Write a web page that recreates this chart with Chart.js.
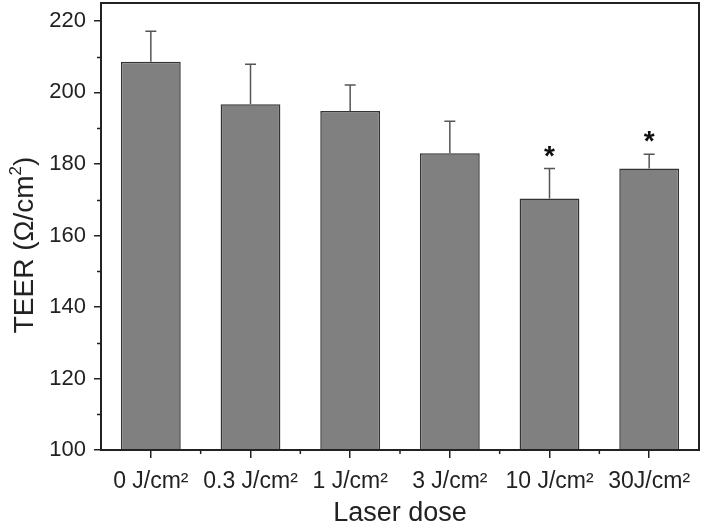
<!DOCTYPE html>
<html>
<head>
<meta charset="utf-8">
<script src="https://cdn.jsdelivr.net/npm/chart.js@4"></script>
<style>
  html, body { margin: 0; padding: 0; background: #fff; }
  #wrap { width: 705px; height: 528px; }
</style>
</head>
<body>
<div id="wrap"><canvas id="teerChart"></canvas></div>
<script>
// data
const doses = ["0 J/cm²", "0.3 J/cm²", "1 J/cm²", "3 J/cm²", "10 J/cm²", "30J/cm²"];
const teerMean = [208.6, 196.7, 194.8, 183.0, 170.3, 178.7];
const teerSd = [8.5, 11.2, 7.3, 8.9, 8.4, 4.0];
const signif = ["", "", "", "", "*", "*"];
const yTicks = [100, 120, 140, 160, 180, 200, 220];
const yTitle = ["TEER (Ω/cm", "2", ")"]; // middle part is a superscript

const FONT = "'Liberation Sans', Arial, sans-serif";
const AXIS = "#222";

// upper error bars + asterisks + frame + minor ticks + y title
const extras = {
  id: "extras",
  afterDatasetsDraw(chart) {
    const { ctx, chartArea: a, scales } = chart;
    const x = scales.x, y = scales.y;
    const meta = chart.getDatasetMeta(0);

    ctx.save();
    ctx.strokeStyle = "#555";
    ctx.lineWidth = 1.5;
    meta.data.forEach((bar, i) => {
      const cx = bar.x;
      const top = y.getPixelForValue(teerMean[i]);
      const cap = y.getPixelForValue(teerMean[i] + teerSd[i]);
      ctx.beginPath();
      ctx.moveTo(cx, top);
      ctx.lineTo(cx, cap);
      ctx.moveTo(cx - 5.5, cap);
      ctx.lineTo(cx + 5.5, cap);
      ctx.stroke();

      if (signif[i]) {
        ctx.fillStyle = "#111";
        ctx.font = "bold 28px " + FONT;
        ctx.textAlign = "center";
        ctx.textBaseline = "alphabetic";
        ctx.fillText(signif[i], cx, cap - 4);
      }
    });

    // frame
    ctx.strokeStyle = AXIS;
    ctx.lineWidth = 2;
    ctx.strokeRect(a.left, a.top, a.right - a.left, a.bottom - a.top);

    // minor ticks
    ctx.lineWidth = 1.5;
    ctx.beginPath();
    for (let v = 110; v < 225; v += 20) {
      const py = Math.round(y.getPixelForValue(v)) + 0.5;
      ctx.moveTo(a.left - 4, py);
      ctx.lineTo(a.left, py);
    }
    for (let i = 0; i < doses.length - 1; i++) {
      const px = (x.getPixelForValue(i) + x.getPixelForValue(i + 1)) / 2;
      ctx.moveTo(px, a.bottom);
      ctx.lineTo(px, a.bottom + 4);
    }
    ctx.stroke();

    // y axis title with a real superscript
    const big = "28px " + FONT, small = "17px " + FONT;
    ctx.font = big;
    const w0 = ctx.measureText(yTitle[0]).width;
    const w2 = ctx.measureText(yTitle[2]).width;
    ctx.font = small;
    const w1 = ctx.measureText(yTitle[1]).width;
    const total = w0 + w1 + w2;
    ctx.translate(33, 245);
    ctx.rotate(-Math.PI / 2);
    ctx.fillStyle = "#222";
    ctx.textAlign = "left";
    ctx.textBaseline = "alphabetic";
    let px = -total / 2;
    ctx.font = big;
    ctx.fillText(yTitle[0], px, 0);
    px += w0;
    ctx.font = small;
    ctx.fillText(yTitle[1], px, -12);
    px += w1;
    ctx.font = big;
    ctx.fillText(yTitle[2], px, 0);
    ctx.restore();
  }
};

new Chart(document.getElementById("teerChart"), {
  type: "bar",
  data: {
    labels: doses,
    datasets: [{
      data: teerMean,
      backgroundColor: "#808080",
      borderColor: "#333",
      borderWidth: 1.5,
      borderSkipped: "bottom",
      barPercentage: 0.6,
      categoryPercentage: 1.0
    }]
  },
  options: {
    responsive: true,
    maintainAspectRatio: false,
    animation: false,
    layout: { padding: { top: 3, right: 6, left: 0, bottom: 0 } },
    plugins: {
      legend: { display: false },
      tooltip: { enabled: false }
    },
    scales: {
      x: {
        grid: {
          offset: false,
          drawOnChartArea: false,
          color: AXIS,
          lineWidth: 1.5,
          tickLength: 8
        },
        border: { color: AXIS, width: 2 },
        ticks: {
          color: "#222",
          padding: 10,
          maxRotation: 0,
          autoSkip: false,
          font: { family: FONT, size: 23 }
        },
        title: {
          display: true,
          text: "Laser dose",
          color: "#222",
          padding: { top: 4, bottom: -2 },
          font: { family: FONT, size: 27 }
        },
        afterFit: (s) => {
          s.height = 78;
          s.paddingLeft = 0;
          s.paddingRight = 0;
        }
      },
      y: {
        min: 100,
        max: 225,
        grid: {
          drawOnChartArea: false,
          color: AXIS,
          lineWidth: 1.5,
          tickLength: 7
        },
        border: { color: AXIS, width: 2 },
        afterBuildTicks: (s) => { s.ticks = yTicks.map((v) => ({ value: v })); },
        ticks: {
          color: "#222",
          padding: 8,
          font: { family: FONT, size: 22 }
        },
        title: { display: false },
        afterFit: (s) => {
          s.width = 101;
          s.paddingTop = 0;
          s.paddingBottom = 0;
        }
      }
    }
  },
  plugins: [extras]
});
</script>
</body>
</html>
